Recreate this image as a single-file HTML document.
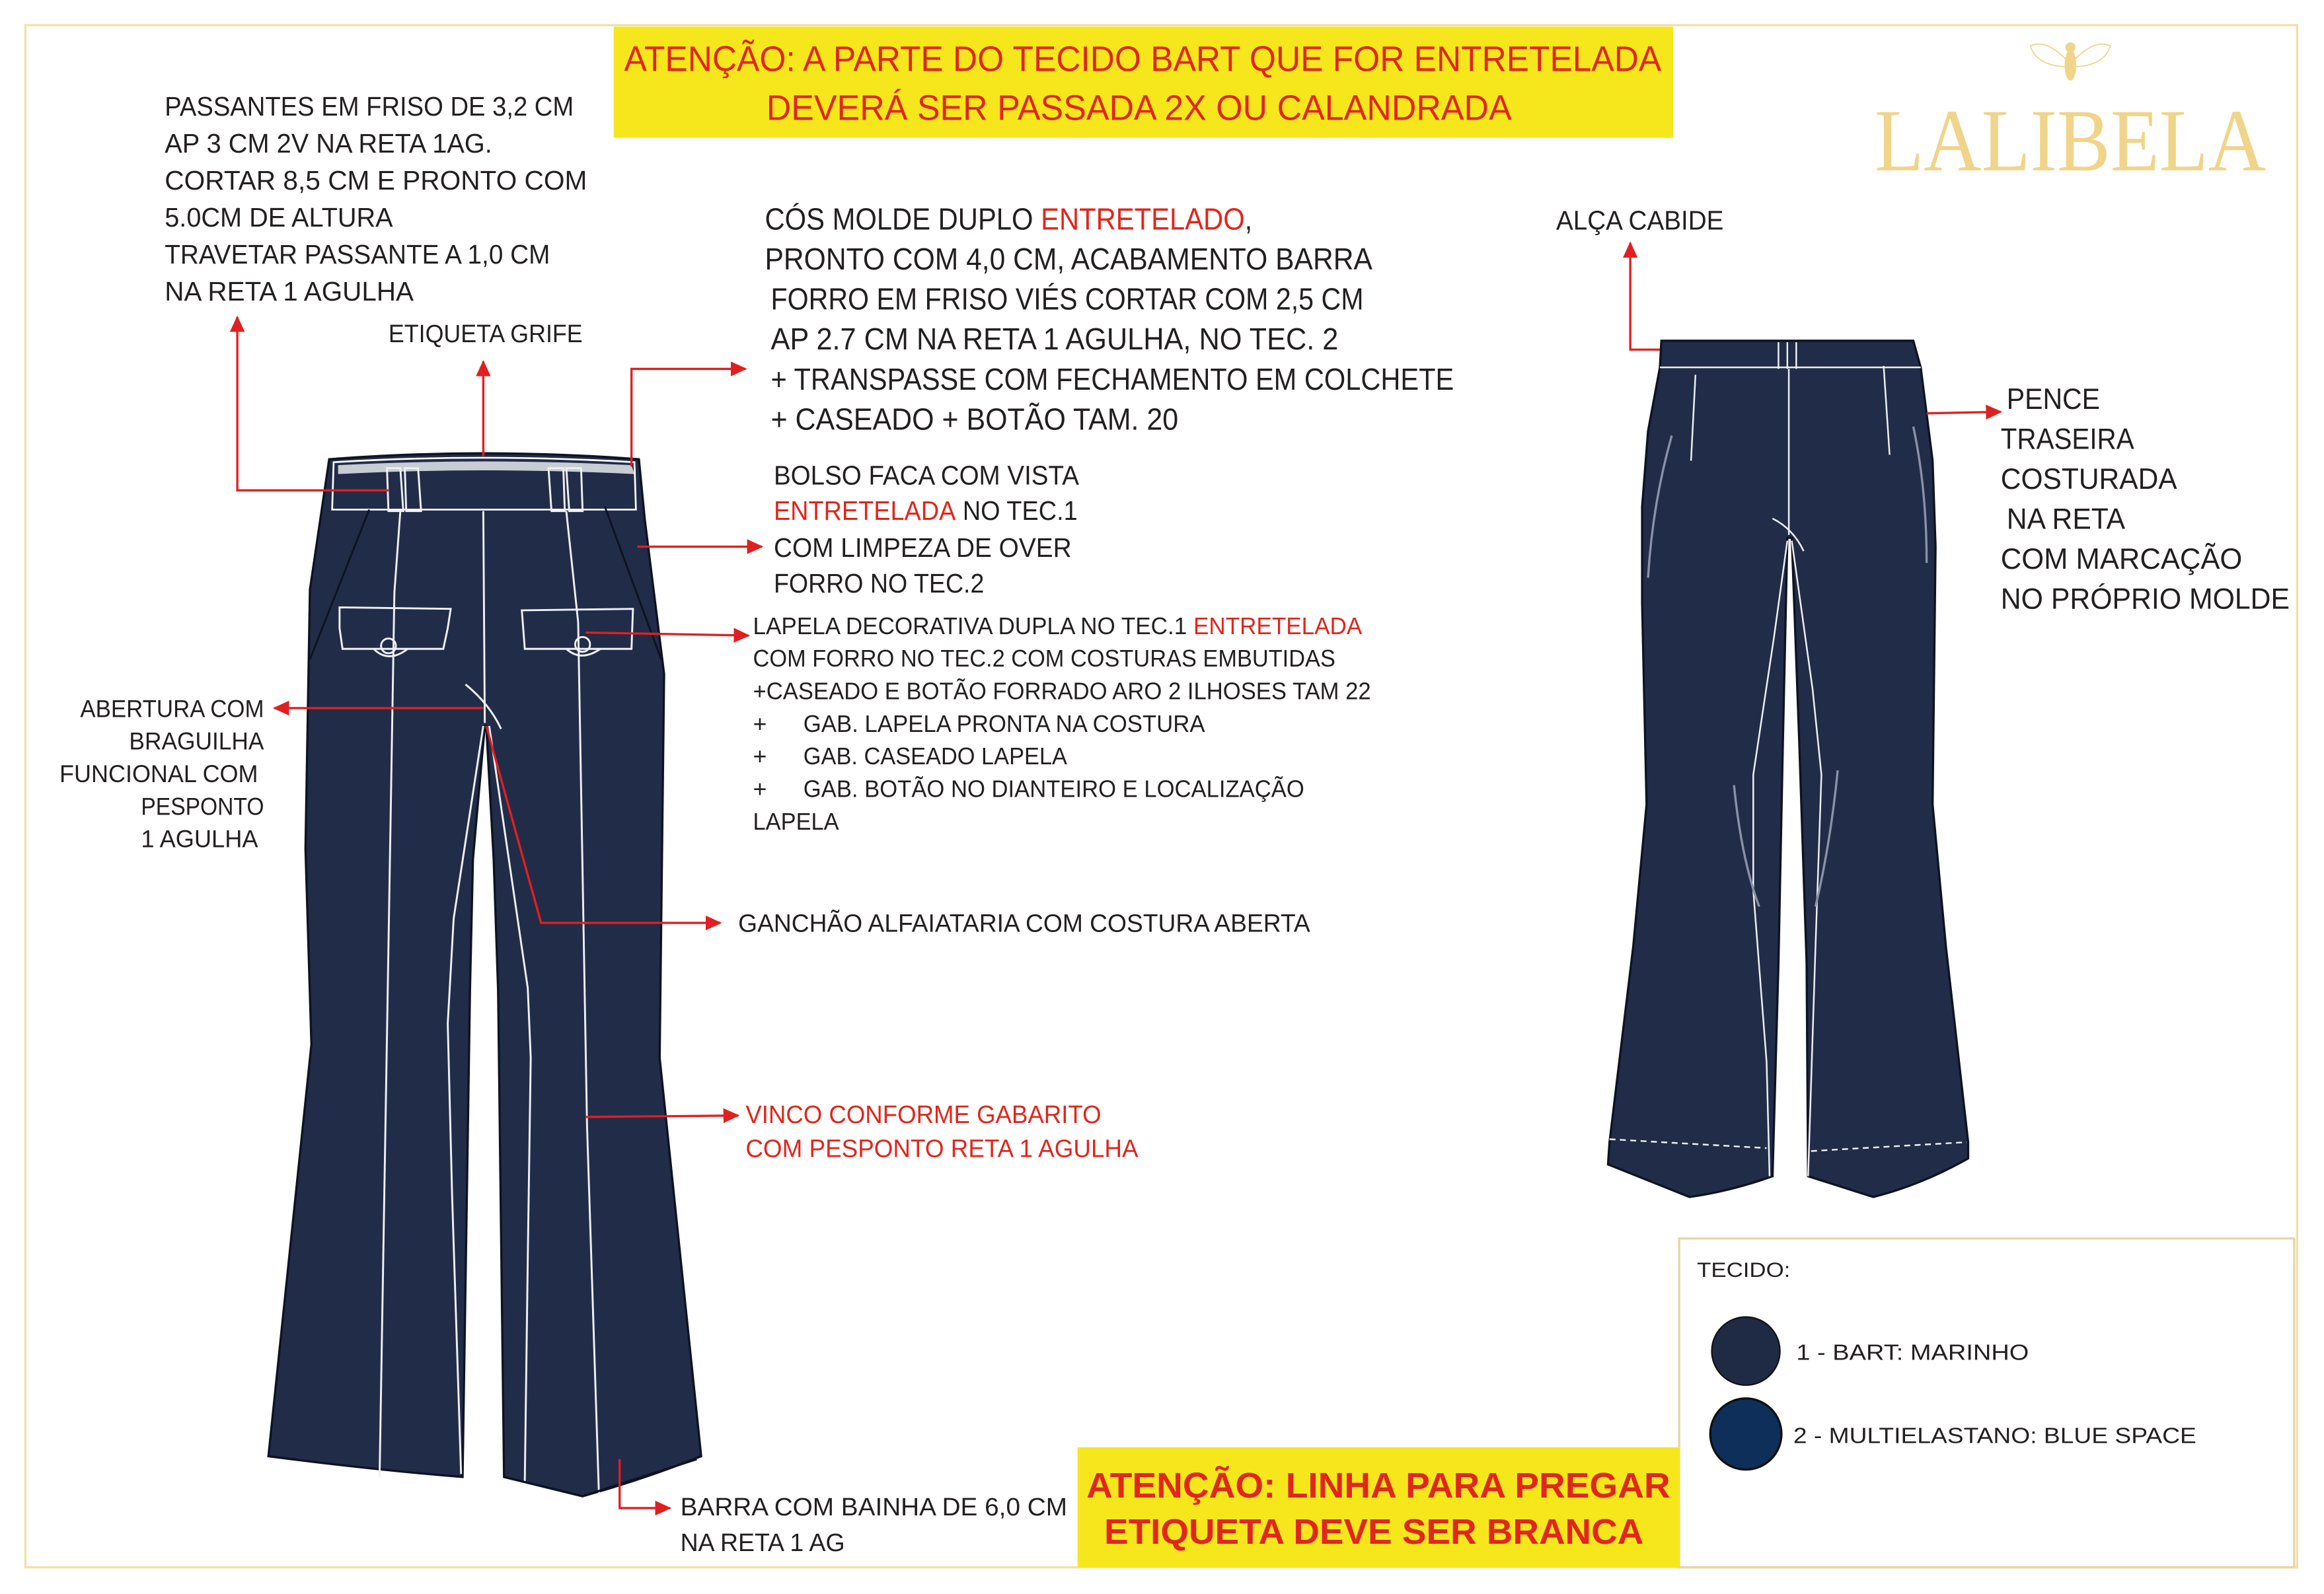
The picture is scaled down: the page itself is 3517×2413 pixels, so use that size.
<!DOCTYPE html>
<html><head><meta charset="utf-8"><style>
html,body{margin:0;padding:0;background:#fff;}
svg{display:block;}
text{font-family:"Liberation Sans",sans-serif;}
</style></head><body>
<svg width="3517" height="2413" viewBox="0 0 1568 1076" xmlns="http://www.w3.org/2000/svg">
<defs>
<marker id="a" markerWidth="11" markerHeight="10" refX="10" refY="5" orient="auto" markerUnits="userSpaceOnUse"><path d="M0,0 L11,5 L0,10 z" fill="#e02020"/></marker>
</defs>
<rect width="1568" height="1076" fill="#fff"/>
<rect x="17" y="17" width="1533" height="1041" fill="none" stroke="#efe2a8" stroke-width="1.5"/>

<!-- top yellow -->
<rect x="414" y="18" width="715" height="75" fill="#f5e71c"/>
<text x="421" y="48" font-size="24" fill="#e1261c" textLength="700" lengthAdjust="spacingAndGlyphs">ATENÇÃO: A PARTE DO TECIDO BART QUE FOR ENTRETELADA</text>
<text x="517" y="81" font-size="24" fill="#e1261c" textLength="503" lengthAdjust="spacingAndGlyphs">DEVERÁ SER PASSADA 2X OU CALANDRADA</text>

<!-- logo -->
<g fill="#f0d48a" stroke="#f0d48a" stroke-width="0.8">
<ellipse cx="1397" cy="44" rx="3.5" ry="10"/>
<circle cx="1397" cy="32" r="3"/>
<path d="M1394,40 Q1380,26 1370,31 Q1374,44 1393,45" fill="none"/>
<path d="M1400,40 Q1414,26 1424,31 Q1420,44 1401,45" fill="none"/>
</g>
<text x="1265" y="115" font-size="60" fill="#f0d48a" textLength="264" lengthAdjust="spacingAndGlyphs" style="font-family:'Liberation Serif',serif">LALIBELA</text>

<!-- left text -->
<g font-size="18" fill="#231f20">
<text x="111" y="78" textLength="276" lengthAdjust="spacingAndGlyphs">PASSANTES EM FRISO DE 3,2 CM</text>
<text x="111" y="103" textLength="221" lengthAdjust="spacingAndGlyphs">AP 3 CM 2V NA RETA 1AG.</text>
<text x="111" y="128" textLength="285" lengthAdjust="spacingAndGlyphs">CORTAR 8,5  CM  E  PRONTO COM</text>
<text x="111" y="153" textLength="154" lengthAdjust="spacingAndGlyphs">5.0CM DE ALTURA</text>
<text x="111" y="178" textLength="260" lengthAdjust="spacingAndGlyphs">TRAVETAR PASSANTE A 1,0 CM</text>
<text x="111" y="203" textLength="168" lengthAdjust="spacingAndGlyphs">NA RETA 1 AGULHA</text>
</g>
<text x="262" y="231" font-size="17" fill="#231f20" textLength="131" lengthAdjust="spacingAndGlyphs">ETIQUETA GRIFE</text>

<g font-size="20.5" fill="#231f20">
<text x="516" y="155" textLength="329" lengthAdjust="spacingAndGlyphs">CÓS MOLDE DUPLO <tspan fill="#e1261c">ENTRETELADO</tspan>,</text>
<text x="516" y="182" textLength="410" lengthAdjust="spacingAndGlyphs">PRONTO COM 4,0 CM, ACABAMENTO BARRA</text>
<text x="520" y="209" textLength="400" lengthAdjust="spacingAndGlyphs">FORRO EM FRISO VIÉS CORTAR COM 2,5 CM</text>
<text x="520" y="236" textLength="383" lengthAdjust="spacingAndGlyphs">AP 2.7 CM  NA RETA 1 AGULHA, NO TEC. 2</text>
<text x="520" y="263" textLength="461" lengthAdjust="spacingAndGlyphs">+ TRANSPASSE COM FECHAMENTO EM COLCHETE</text>
<text x="520" y="290" textLength="275" lengthAdjust="spacingAndGlyphs">+ CASEADO + BOTÃO TAM. 20</text>
</g>
<g font-size="18" fill="#231f20">
<text x="522" y="327" textLength="206" lengthAdjust="spacingAndGlyphs">BOLSO FACA COM VISTA</text>
<text x="522" y="351" textLength="205" lengthAdjust="spacingAndGlyphs"><tspan fill="#e1261c">ENTRETELADA</tspan> NO TEC.1</text>
<text x="522" y="376" textLength="201" lengthAdjust="spacingAndGlyphs">COM LIMPEZA DE OVER</text>
<text x="522" y="400" textLength="142" lengthAdjust="spacingAndGlyphs">FORRO NO TEC.2</text>
</g>
<g font-size="16" fill="#231f20">
<text x="508" y="428" textLength="411" lengthAdjust="spacingAndGlyphs">LAPELA  DECORATIVA DUPLA NO TEC.1 <tspan fill="#e1261c">ENTRETELADA</tspan></text>
<text x="508" y="450" textLength="393" lengthAdjust="spacingAndGlyphs">COM FORRO NO TEC.2 COM COSTURAS EMBUTIDAS</text>
<text x="508" y="472" textLength="417" lengthAdjust="spacingAndGlyphs">+CASEADO E BOTÃO FORRADO ARO 2 ILHOSES TAM 22</text>
<text x="508" y="494">+</text><text x="542" y="494" textLength="271" lengthAdjust="spacingAndGlyphs">GAB. LAPELA PRONTA NA COSTURA</text>
<text x="508" y="516">+</text><text x="542" y="516" textLength="178" lengthAdjust="spacingAndGlyphs">GAB. CASEADO LAPELA</text>
<text x="508" y="538">+</text><text x="542" y="538" textLength="338" lengthAdjust="spacingAndGlyphs">GAB. BOTÃO NO DIANTEIRO E LOCALIZAÇÃO</text>
<text x="508" y="560" textLength="58" lengthAdjust="spacingAndGlyphs">LAPELA</text>
</g>
<g font-size="16.5" fill="#231f20">
<text x="54" y="484" textLength="124" lengthAdjust="spacingAndGlyphs">ABERTURA COM</text>
<text x="87" y="506" textLength="91" lengthAdjust="spacingAndGlyphs">BRAGUILHA</text>
<text x="40" y="528" textLength="134" lengthAdjust="spacingAndGlyphs">FUNCIONAL COM</text>
<text x="95" y="550" textLength="83" lengthAdjust="spacingAndGlyphs">PESPONTO</text>
<text x="95" y="572" textLength="79" lengthAdjust="spacingAndGlyphs">1 AGULHA</text>
</g>
<text x="498" y="629" font-size="17" fill="#231f20" textLength="386" lengthAdjust="spacingAndGlyphs">GANCHÃO ALFAIATARIA COM COSTURA ABERTA</text>
<text x="503" y="758" font-size="17" fill="#e1261c" textLength="240" lengthAdjust="spacingAndGlyphs">VINCO CONFORME GABARITO</text>
<text x="503" y="781" font-size="17" fill="#e1261c" textLength="265" lengthAdjust="spacingAndGlyphs">COM PESPONTO RETA 1 AGULHA</text>
<text x="459" y="1023" font-size="17" fill="#231f20" textLength="261" lengthAdjust="spacingAndGlyphs">BARRA  COM BAINHA  DE 6,0 CM</text>
<text x="459" y="1047" font-size="17" fill="#231f20" textLength="111" lengthAdjust="spacingAndGlyphs">NA RETA 1 AG</text>
<text x="1050" y="155" font-size="18" fill="#231f20" textLength="113" lengthAdjust="spacingAndGlyphs">ALÇA CABIDE</text>
<g font-size="20" fill="#231f20">
<text x="1354" y="276" textLength="63" lengthAdjust="spacingAndGlyphs">PENCE</text>
<text x="1350" y="303" textLength="90" lengthAdjust="spacingAndGlyphs">TRASEIRA</text>
<text x="1350" y="330" textLength="119" lengthAdjust="spacingAndGlyphs">COSTURADA</text>
<text x="1354" y="357" textLength="80" lengthAdjust="spacingAndGlyphs">NA RETA</text>
<text x="1350" y="384" textLength="163" lengthAdjust="spacingAndGlyphs">COM MARCAÇÃO</text>
<text x="1350" y="411" textLength="195" lengthAdjust="spacingAndGlyphs">NO PRÓPRIO MOLDE</text>
</g>

<!-- front pants -->
<path d="M222,310 Q326,302 431,310 L435,351 L448,455 L445,714 L473,983 Q436,998 393,1010 L340,997 L336,669 L333,580 L328,490 L327,490 L319,580 L317,669 L312,997 Q250,992 181,983 L210,705 L206,573 L209,398 Z" fill="#212c48" stroke="#0d1322" stroke-width="1.5"/>
<path d="M225,312 Q326,306 428,312 L429,344 L224,344 Z" fill="none" stroke="#fff" stroke-width="1.2"/>
<path d="M228,314 Q326,309 426,314 L428,320 Q326,315 228,320 Z" fill="#c8ccd3"/>
<g fill="none" stroke="#eef0f4" stroke-width="1.3">
<path d="M261,316 L262,345 L272,345 L270,316 Z M273,316 L274,345 L284,345 L282,316 Z"/>
<path d="M370,316 L372,345 L381,345 L380,316 Z M382,316 L384,345 L393,345 L392,316 Z"/>
<path d="M229,410 L304,411 L302,424 L299,438 L231,438 L229,424 Z"/>
<path d="M352,412 L427,411 L426,438 L354,438 Z"/>
<path d="M252,438 Q262,448 275,438"/><path d="M382,438 Q392,447 405,438"/>
<circle cx="262" cy="436" r="5"/><circle cx="393" cy="435" r="5"/>
<path d="M326,345 L327,488"/>
<path d="M270,345 L266,400 L256,997"/>
<path d="M382,345 L390,420 L396,760 L404,1008"/>
<path d="M249,344 L209,445" stroke="#0d1322"/><path d="M408,342 L446,445" stroke="#0d1322"/>
<path d="M314,462 Q330,475 338,492"/>
<path d="M326,490 L306,620 L302,691 L305,809 L311,995"/>
<path d="M330,490 L356,667 L358,714 L356,850 L354,1000"/>
<path d="M340,997 L393,1010 L470,985" stroke="#0d1322" stroke-width="1.5"/>
</g>

<!-- back pants -->
<path d="M1121,230 L1291,230 L1296,248 L1304,311 L1306,369 L1304,543 L1313,639 L1328,771 L1328,782 Q1296,800 1264,808 L1220,794 L1219,650 L1214,500 L1209,363 L1206,363 L1203,500 L1200,650 L1196,794 Q1168,804 1140,808 L1085,786 L1086,771 L1102,639 L1111,543 L1108,407 L1108,342 L1112,291 L1120,248 Z" fill="#212c48" stroke="#0d1322" stroke-width="1.5"/>
<g fill="none" stroke="#eef0f4" stroke-width="1.1">
<path d="M1120,248 L1296,248"/>
<path d="M1200,231 L1200,249 M1206,231 L1206,249 M1212,231 L1212,249"/>
<path d="M1207,249 L1207,361"/>
<path d="M1144,253 L1141,311 M1271,247 L1275,307"/>
<path d="M1196,350 Q1210,357 1217,372"/>
<path d="M1209,365 L1223,465 L1229,523 L1225,639 L1220,794"/>
<path d="M1206,365 L1197,430 L1183,523 L1183,601 L1192,717 L1194,794"/>
<path d="M1086,769 L1192,775" stroke-dasharray="4,3"/>
<path d="M1222,777 L1327,771" stroke-dasharray="4,3"/>
</g>
<g fill="none" stroke="#8a92a6" stroke-width="1.5">
<path d="M1128,294 Q1115,340 1112,390"/>
<path d="M1291,288 Q1300,330 1300,380"/>
<path d="M1170,530 Q1175,580 1187,612"/>
<path d="M1240,520 Q1235,570 1225,612"/>
</g>

<!-- arrows -->
<g stroke="#e02020" stroke-width="1.5" fill="none" marker-end="url(#a)">
<path d="M262,331 L160,331 L160,214"/>
<path d="M326,308 L326,244"/>
<path d="M426,315 L426,249 L503,249"/>
<path d="M430,369 L514,369"/>
<path d="M395,427 L505,429"/>
<path d="M326,478 L185,478"/>
<path d="M328,490 L365,623 L486,623"/>
<path d="M395,754 L498,753"/>
<path d="M418,985 L418,1018 L452,1018"/>
<path d="M1120,236 L1100,236 L1100,164"/>
<path d="M1300,279 L1350,278"/>
</g>

<!-- tecido box -->
<rect x="1133" y="836" width="415" height="222" fill="#fff" stroke="#e6d7a6" stroke-width="1.5"/>
<text x="1145" y="862" font-size="14" fill="#231f20" textLength="63" lengthAdjust="spacingAndGlyphs">TECIDO:</text>
<circle cx="1178" cy="912" r="23" fill="#1f2a44" stroke="#111" stroke-width="1"/>
<circle cx="1178" cy="968" r="24" fill="#0d2f5a" stroke="#111" stroke-width="1.5"/>
<text x="1212" y="918" font-size="15" fill="#231f20" textLength="157" lengthAdjust="spacingAndGlyphs">1 - BART:  MARINHO</text>
<text x="1210" y="974" font-size="15" fill="#231f20" textLength="272" lengthAdjust="spacingAndGlyphs">2 - MULTIELASTANO: BLUE SPACE</text>

<!-- bottom yellow -->
<rect x="727" y="977" width="406" height="81" fill="#f5e71c"/>
<text x="733" y="1011" font-size="24" font-weight="bold" fill="#e1261c" textLength="394" lengthAdjust="spacingAndGlyphs">ATENÇÃO: LINHA PARA PREGAR</text>
<text x="745" y="1042" font-size="24" font-weight="bold" fill="#e1261c" textLength="364" lengthAdjust="spacingAndGlyphs">ETIQUETA DEVE SER BRANCA</text>
</svg>
</body></html>
